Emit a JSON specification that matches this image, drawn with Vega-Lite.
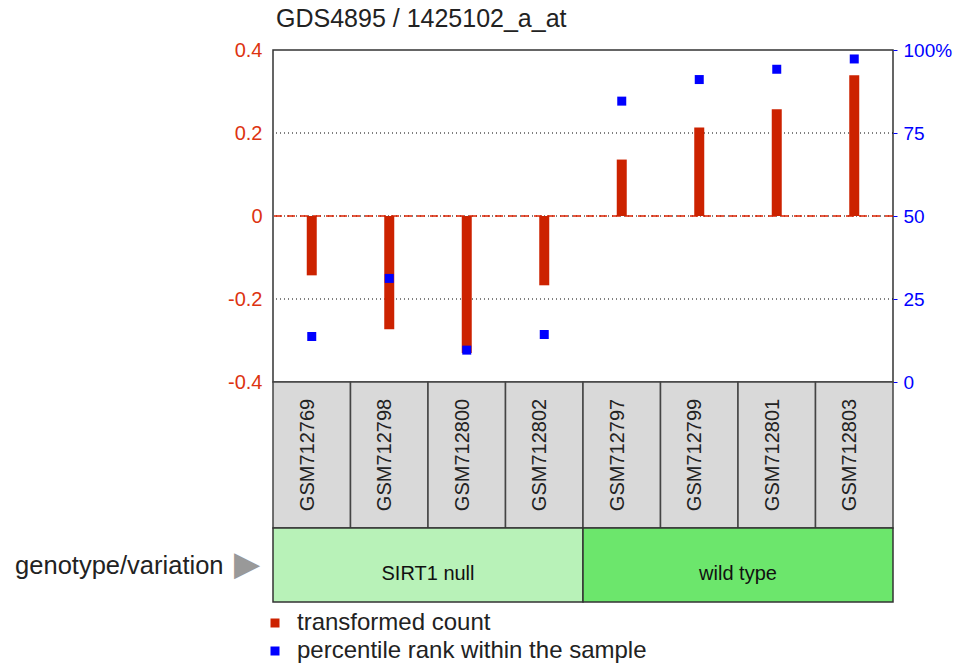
{
  "$schema": "https://vega.github.io/schema/vega-lite/v6.json",
  "padding": {"left": 14, "top": 6, "right": 0, "bottom": 0},
  "background": "white",
  "bounds": "flush",
  "config": {"font": "Liberation Sans", "view": {"stroke": null}, "concat": {"spacing": 0}},
  "datasets": {
    "samples": [
      {"sample": "GSM712769", "genotype": "SIRT1 null", "count": -0.143, "percentile": 13.7},
      {"sample": "GSM712798", "genotype": "SIRT1 null", "count": -0.273, "percentile": 31.2},
      {"sample": "GSM712800", "genotype": "SIRT1 null", "count": -0.33, "percentile": 9.6},
      {"sample": "GSM712802", "genotype": "SIRT1 null", "count": -0.167, "percentile": 14.3},
      {"sample": "GSM712797", "genotype": "wild type", "count": 0.136, "percentile": 84.6},
      {"sample": "GSM712799", "genotype": "wild type", "count": 0.213, "percentile": 91.1},
      {"sample": "GSM712801", "genotype": "wild type", "count": 0.257, "percentile": 94.2},
      {"sample": "GSM712803", "genotype": "wild type", "count": 0.339, "percentile": 97.3}
    ],
    "lines": [
      {"y": 0.2, "line": "grid"},
      {"y": -0.2, "line": "grid"},
      {"y": 0, "line": "grid"},
      {"y": 0, "line": "zero"}
    ],
    "groups": [
      {"genotype": "SIRT1 null", "row": "g"},
      {"genotype": "wild type", "row": "g"}
    ]
  },
  "vconcat": [
    {
      "width": 620,
      "height": 332,
      "title": {"text": "GDS4895 / 1425102_a_at", "anchor": "start", "frame": "group", "fontSize": 25, "fontWeight": "normal", "color": "#222", "offset": 8, "dx": 3},
      "view": {"stroke": "#333", "strokeWidth": 1.5},
      "layer": [
        {
          "layer": [
            {
              "data": {"name": "lines"},
              "transform": [{"filter": "datum.line == 'grid'"}],
              "mark": {"type": "rule", "color": "#000", "strokeDash": [1, 3], "strokeWidth": 1.2},
              "encoding": {"y": {"field": "y", "type": "quantitative", "scale": {"domain": [-0.4, 0.4], "nice": false, "zero": false},
                "axis": {"orient": "left", "title": null, "values": [-0.4, -0.2, 0, 0.2, 0.4], "labelColor": "#dd3311", "labelFontSize": 20, "ticks": false, "domain": false, "grid": false, "labelPadding": 11,
                  "labelExpr": "datum.value == 0 ? '0' : (datum.value < 0 ? '-' + format(-datum.value, '.1f') : format(datum.value, '.1f'))"}}}
            },
            {
              "data": {"name": "lines"},
              "transform": [{"filter": "datum.line == 'zero'"}],
              "mark": {"type": "rule", "color": "#dd2200", "strokeDash": [8, 5], "strokeWidth": 1.5},
              "encoding": {"y": {"field": "y", "type": "quantitative"}}
            },
            {
              "data": {"name": "samples"},
              "mark": {"type": "bar", "size": 10},
              "encoding": {
                "x": {"field": "sample", "type": "nominal", "sort": null, "scale": {"paddingInner": 0, "paddingOuter": 0}, "axis": null},
                "y": {"field": "count", "type": "quantitative"},
                "y2": {"datum": 0},
                "color": {"datum": "transformed count", "type": "nominal",
                  "scale": {"domain": ["transformed count", "percentile rank within the sample"], "range": ["#cc2200", "#0000ff"]},
                  "legend": {"orient": "none", "legendX": -10, "legendY": 561, "direction": "vertical", "title": null, "padding": 0, "symbolOffset": 0, "symbolType": "square", "symbolSize": 81, "labelFontSize": 24, "labelColor": "#222", "labelLimit": 600, "rowPadding": 4, "labelOffset": 10}}
              }
            }
          ]
        },
        {
          "data": {"name": "samples"},
          "mark": {"type": "square", "size": 81, "opacity": 1},
          "encoding": {
            "x": {"field": "sample", "type": "nominal", "sort": null},
            "y": {"field": "percentile", "type": "quantitative", "scale": {"domain": [0, 100], "nice": false},
              "axis": {"orient": "right", "title": null, "values": [0, 25, 50, 75, 100], "labelColor": "#0000ff", "labelFontSize": 19, "tickColor": "#0000ff", "tickSize": 4, "domain": false, "grid": false, "labelPadding": 6,
                "labelExpr": "datum.value == 100 ? '100%' : datum.label"}},
            "color": {"datum": "percentile rank within the sample", "type": "nominal"}
          }
        }
      ],
      "resolve": {"scale": {"y": "independent"}}
    },
    {
      "width": 620,
      "height": 146,
      "data": {"name": "samples"},
      "encoding": {
        "x": {"field": "sample", "type": "nominal", "sort": null, "scale": {"paddingInner": 0, "paddingOuter": 0}, "axis": null}
      },
      "layer": [
        {"mark": {"type": "rect", "fill": "#d9d9d9", "stroke": "#444", "strokeWidth": 1.5}},
        {"mark": {"type": "text", "angle": 270, "fontSize": 20, "color": "#222", "baseline": "middle", "align": "center", "dy": -4},
          "encoding": {"text": {"field": "sample"}}}
      ]
    },
    {
      "width": 620,
      "height": 74,
      "data": {"name": "groups"},
      "encoding": {
        "x": {"field": "genotype", "type": "nominal", "scale": {"paddingInner": 0, "paddingOuter": 0}, "axis": null},
        "y": {"field": "row", "type": "nominal", "scale": {"paddingInner": 0, "paddingOuter": 0},
          "axis": {"title": "genotype/variation", "titleAngle": 0, "titleAlign": "right", "titleBaseline": "middle", "titleFontSize": 25.5, "titleFontWeight": "normal", "titleColor": "#222", "titlePadding": 10,
            "labelExpr": "'▶'", "labelColor": "#999", "labelFontSize": 34, "ticks": false, "domain": false, "labelPadding": 14}}
      },
      "layer": [
        {"mark": {"type": "rect", "stroke": "#333", "strokeWidth": 1.5},
          "encoding": {"fill": {"field": "genotype", "type": "nominal", "scale": {"domain": ["SIRT1 null", "wild type"], "range": ["#b8f2b8", "#6ce66c"]}, "legend": null}}},
        {"mark": {"type": "text", "fontSize": 20, "color": "#111", "dy": 9},
          "encoding": {"text": {"field": "genotype"}}}
      ]
    }
  ]
}
